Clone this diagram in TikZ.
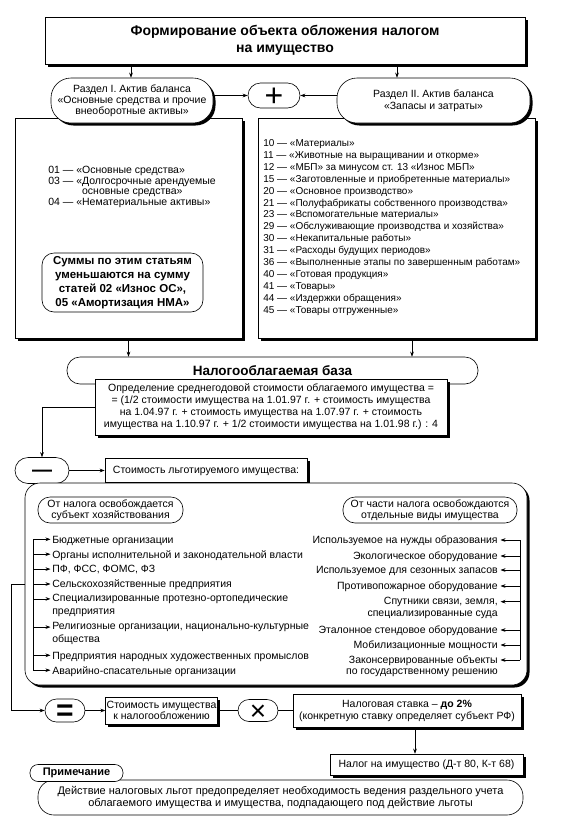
\documentclass[tikz,border=0pt]{standalone}
\usepackage{fontspec}
\setmainfont{Liberation Sans}
\usetikzlibrary{calc,positioning,shadows,arrows.meta}
\newcommand{\diagfont}{\fontsize{10.5}{11.9}\selectfont}
\tikzset{every node/.style={align=center,font=\diagfont}}
\tikzset{
  box/.style={rectangle,draw,fill=white,inner sep=1pt},
  shadowed/.style={drop shadow={shadow xshift=2.5pt,shadow yshift=-2.5pt,opacity=1,fill=black}},
  pill/.style={rectangle,draw,fill=white,rounded corners=#1,inner sep=1pt},
  pill/.default=12pt,
  entry/.style={inner sep=0pt,font=\fontsize{10.5}{13.3}\selectfont,execute at begin node={\rule{0pt}{8.5pt}}},
  sign/.style={pill=11.5pt,text depth=0pt}
}

\begin{document}
\begin{tikzpicture}[x=1pt,y=-1pt,>={Stealth[length=5pt,width=3.6pt]},line width=0.6pt]
\useasboundingbox (0,0) rectangle (561,839);

\node[box,shadowed,minimum width=480pt,minimum height=47pt,font=\fontsize{14}{17.5}\selectfont\bfseries] (title) at (285,40.5) {Формирование объекта обложения налогом\\на имущество};

\node[box,shadowed,minimum width=227pt,minimum height=220pt] (boxL) at (128.5,228) {};
\node[box,shadowed,minimum width=277pt,minimum height=220pt] (boxR) at (396.5,228) {};

\node[pill=20pt,shadowed,minimum width=162pt,minimum height=45pt,font=\fontsize{10.5}{11}\selectfont] (sec1) at (132,100.5) {Раздел I. Актив баланса\\«Основные средства и прочие\\внеоборотные активы»};
\node[pill=20pt,shadowed,minimum width=193pt,minimum height=45pt,font=\fontsize{10.5}{11.5}\selectfont] (sec2) at (433.5,100.5) {Раздел II. Актив баланса\\«Запасы и затраты»};
\node[sign,pill=12.5pt,minimum width=52pt,minimum height=25pt,font=\fontsize{32}{32}\selectfont,text height=22.6pt] (plus) at (274,95.5) {+};

\node[anchor=north west,align=left,inner sep=0pt,font=\fontsize{10.5}{10.5}\selectfont] (listL) at (48,166) {01 — «Основные средства»\\03 — «Долгосрочные арендуемые\\\phantom{03 — «}основные средства»\\04 — «Нематериальные активы»};
\node[pill,minimum width=161pt,minimum height=59pt,font=\fontsize{11.5}{14}\selectfont\bfseries] (sums) at (122.5,282.5) {Суммы по этим статьям\\уменьшаются на сумму\\статей 02 «Износ ОС»,\\05 «Амортизация НМА»};

\node[anchor=north west,align=left,inner sep=0pt,font=\fontsize{10}{11.9}\selectfont] (listR) at (263,139.3) {10 — «Материалы»\\11 — «Животные на выращивании и откорме»\\12 — «МБП» за минусом ст. 13 «Износ МБП»\\15 — «Заготовленные и приобретенные материалы»\\20 — «Основное производство»\\21 — «Полуфабрикаты собственного производства»\\23 — «Вспомогательные материалы»\\29 — «Обслуживающие производства и хозяйства»\\30 — «Некапитальные работы»\\31 — «Расходы будущих периодов»\\36 — «Выполненные этапы по завершенным работам»\\40 — «Готовая продукция»\\41 — «Товары»\\44 — «Издержки обращения»\\45 — «Товары отгруженные»};

\node[pill=13pt,minimum width=411pt,minimum height=27pt,font=\fontsize{13.5}{15}\selectfont\bfseries] (base) at (272.5,370.5) {Налогооблагаемая база};
\node[box,shadowed,minimum width=352pt,minimum height=56pt,font=\fontsize{10.5}{12}\selectfont] (formula) at (271,407) {Определение среднегодовой стоимости облагаемого имущества =\\= (1/2 стоимости имущества на 1.01.97 г. + стоимость имущества\\на 1.04.97 г. + стоимость имущества на 1.07.97 г. + стоимость\\имущества на 1.10.97 г. + 1/2 стоимости имущества на 1.01.98 г.) : 4};

\node[sign,pill=13pt,minimum width=54pt,minimum height=26pt,font=\fontsize{20}{20}\selectfont\bfseries,text height=12pt] (minus) at (42,470.5) {—};
\node[box,shadowed,minimum width=202pt,minimum height=24pt] (exempt) at (206,470.5) {Стоимость льготируемого имущества:};

\node[box,shadowed,rounded corners=15pt,minimum width=502pt,minimum height=202pt] (group) at (276,584) {};
\node[pill,minimum width=145pt,minimum height=26pt,font=\fontsize{10.5}{11}\selectfont] (whole) at (110.5,510) {От налога освобождается\\субъект хозяйствования};
\node[pill,minimum width=174pt,minimum height=26pt,font=\fontsize{10.5}{11}\selectfont] (part) at (430,510) {От части налога освобождаются\\отдельные виды имущества};

\node[entry,anchor=north west,align=left] (b1) at (52,534.3) {Бюджетные организации};
\node[entry,anchor=north west,align=left] (b2) at (52,549.2) {Органы исполнительной и законодательной власти};
\node[entry,anchor=north west,align=left] (b3) at (52,564.1) {ПФ, ФСС, ФОМС, ФЗ};
\node[entry,anchor=north west,align=left] (b4) at (52,579) {Сельскохозяйственные предприятия};
\node[entry,anchor=north west,align=left] (b5) at (52,593.9) {Специализированные протезно-ортопедические\\предприятия};
\node[entry,anchor=north west,align=left] (b6) at (52,622.1) {Религиозные организации, национально-культурные\\общества};
\node[entry,anchor=north west,align=left] (b7) at (52,650.3) {Предприятия народных художественных промыслов};
\node[entry,anchor=north west,align=left] (b8) at (52,665.2) {Аварийно-спасательные организации};

\node[entry,anchor=north east,align=right,font=\fontsize{10.5}{11.7}\selectfont] (c1) at (498,535) {Используемое на нужды образования};
\node[entry,anchor=north east,align=right] (c2) at (498,551) {Экологическое оборудование};
\node[entry,anchor=north east,align=right] (c3) at (498,565) {Используемое для сезонных запасов};
\node[entry,anchor=north east,align=right] (c4) at (498,581) {Противопожарное оборудование};
\node[entry,anchor=north east,align=right,font=\fontsize{10.5}{11.7}\selectfont] (c5) at (498,596.7) {Спутники связи, земля,\\специализированные суда};
\node[entry,anchor=north east,align=right] (c6) at (498,625) {Эталонное стендовое оборудование};
\node[entry,anchor=north east,align=right] (c7) at (498,640) {Мобилизационные мощности};
\node[entry,anchor=north east,align=right,font=\fontsize{10.5}{11.7}\selectfont] (c8) at (498,655) {Законсервированные объекты\\по государственному решению};

\node[sign,minimum width=40pt,minimum height=23pt,font=\fontsize{30}{30}\selectfont\bfseries,text height=19pt] (eq) at (65,710.5) {=};
\node[box,shadowed,minimum width=109pt,minimum height=27pt,font=\fontsize{10.5}{11}\selectfont] (cost) at (161.5,710.5) {Стоимость имущества\\к налогообложению};
\node[sign,pill=11pt,minimum width=40pt,minimum height=22pt,font=\fontsize{28}{28}\selectfont,text height=19.6pt] (times) at (258,710.5) {×};
\node[box,shadowed,minimum width=228pt,minimum height=33pt,font=\fontsize{10.5}{12}\selectfont] (rate) at (407,710.5) {Налоговая ставка – \textbf{до 2\%}\\(конкретную ставку определяет субъект РФ)};
\node[box,shadowed,minimum width=193pt,minimum height=21pt] (tax) at (426.5,764.5) {Налог на имущество (Д-т 80, К-т 68)};

\node[pill=16pt,minimum width=485pt,minimum height=35pt,font=\fontsize{11}{12.5}\selectfont] (note) at (280.5,797.5) {Действие налоговых льгот предопределяет необходимость ведения раздельного учета\\облагаемого имущества и имущества, подпадающего под действие льготы};
\node[pill=8pt,minimum width=93pt,minimum height=17pt,font=\fontsize{11}{12}\selectfont\bfseries] (remark) at (76.5,773) {Примечание};

\coordinate (aL) at (131,0);
\coordinate (aR) at (397,0);
\coordinate (bR) at (412,0);
\coordinate (rt) at (415,0);

\draw[->] (title.south -| aL) -- (sec1.north -| aL);
\draw[->] (title.south -| aR) -- (sec2.north -| aR);
\draw[->] (plus.west -| sec1.east) -- (plus.west);
\draw[->] (plus.east -| sec2.west) -- (plus.east);
\draw[->] (boxL.south) -- (boxL.south |- base.north);
\draw[->] (boxR.south -| bR) -- (base.north -| bR);
\draw[->] (formula.west) -| (minus.north);
\draw[->] (minus.east) -- (exempt.west);

\draw ($(b1.north west)+(-19,5)$) -- ($(b8.north west)+(-19,5)$);
\draw[->] ($(b1.north west)+(-19,5)$) -- ($(b1.north west)+(-1.5,5)$);
\draw[->] ($(b2.north west)+(-19,5)$) -- ($(b2.north west)+(-1.5,5)$);
\draw[->] ($(b3.north west)+(-19,5)$) -- ($(b3.north west)+(-1.5,5)$);
\draw[->] ($(b4.north west)+(-19,5)$) -- ($(b4.north west)+(-1.5,5)$);
\draw[->] ($(b5.north west)+(-19,5)$) -- ($(b5.north west)+(-1.5,5)$);
\draw[->] ($(b6.north west)+(-19,5)$) -- ($(b6.north west)+(-1.5,5)$);
\draw[->] ($(b7.north west)+(-19,5)$) -- ($(b7.north west)+(-1.5,5)$);
\draw[->] ($(b8.north west)+(-19,5)$) -- ($(b8.north west)+(-1.5,5)$);

\draw ($(c1.north east)+(22,5)$) -- ($(c8.north east)+(22,5)$);
\draw[->] ($(c1.north east)+(22,5)$) -- ($(c1.north east)+(2.5,5)$);
\draw[->] ($(c2.north east)+(22,5)$) -- ($(c2.north east)+(2.5,5)$);
\draw[->] ($(c3.north east)+(22,5)$) -- ($(c3.north east)+(2.5,5)$);
\draw[->] ($(c4.north east)+(22,5)$) -- ($(c4.north east)+(2.5,5)$);
\draw[->] ($(c5.north east)+(22,5)$) -- ($(c5.north east)+(2.5,5)$);
\draw[->] ($(c6.north east)+(22,5)$) -- ($(c6.north east)+(2.5,5)$);
\draw[->] ($(c7.north east)+(22,5)$) -- ($(c7.north east)+(2.5,5)$);
\draw[->] ($(c8.north east)+(22,5)$) -- ($(c8.north east)+(2.5,5)$);

\draw[->] (group.west) -- ++(-13,0) |- (eq.west);
\draw[->] (eq) -- (cost);
\draw (cost) -- (times);
\draw (times) -- (rate);
\draw[->] (rate.south -| rt) -- (tax.north -| rt);

\end{tikzpicture}
\end{document}
